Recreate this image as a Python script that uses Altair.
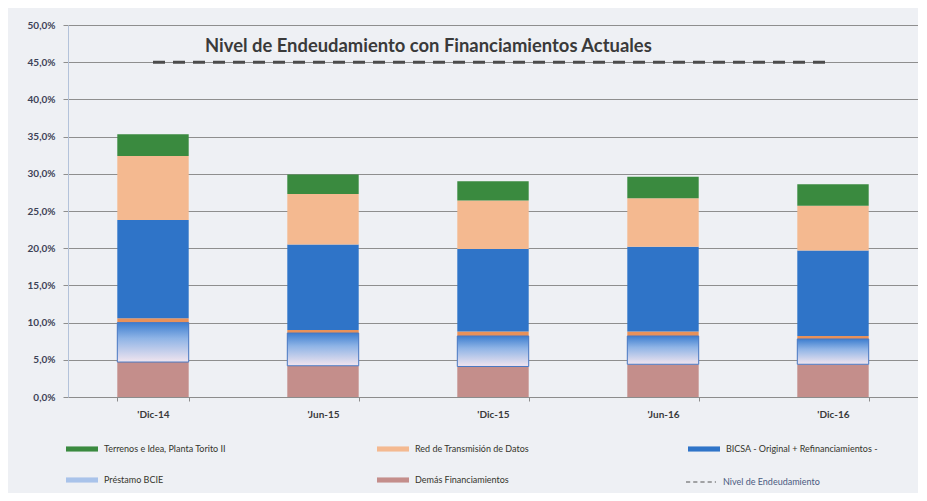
import altair as alt
import pandas as pd

# ---- data ----
fechas = ["'Dic-14", "'Jun-15", "'Dic-15", "'Jun-16", "'Dic-16"]
demas = [4.7, 4.2, 4.1, 4.4, 4.4]
prestamo = [5.3, 4.4, 4.1, 3.8, 3.4]
otros = [0.6, 0.4, 0.6, 0.6, 0.4]
bicsa = [13.2, 11.5, 11.1, 11.4, 11.5]
red = [8.6, 6.8, 6.5, 6.5, 6.0]
terrenos = [2.9, 2.6, 2.6, 2.9, 2.9]
nivel = [45.0, 45.0, 45.0, 45.0, 45.0]

S_TER = "Terrenos e Idea, Planta Torito II"
S_RED = "Red de Transmisión de Datos"
S_BIC = "BICSA - Original + Refinanciamientos -"
S_PRE = "Préstamo BCIE"
S_DEM = "Demás Financiamientos"
S_OTR = "Otros"
S_NIV = "Nivel de Endeudamiento"

series = [S_DEM, S_PRE, S_OTR, S_BIC, S_RED, S_TER]  # bottom -> top
valores = [demas, prestamo, otros, bicsa, red, terrenos]
colores = {
    S_TER: "#3a8a3f",
    S_RED: "#f4b990",
    S_BIC: "#2f74c8",
    S_PRE: "#a9c3ea",
    S_DEM: "#c48e8b",
    S_OTR: "#e8915a",
}

rows = []
for i, f in enumerate(fechas):
    base = 0.0
    for s, vals in zip(series, valores):
        rows.append({"fecha": f, "serie": s, "y0": base, "y1": base + vals[i], "orden": series.index(s)})
        base += vals[i]
df = pd.DataFrame(rows)
df_line = pd.DataFrame({"fecha": fechas, "y0": nivel, "linea": [S_NIV] * len(fechas)})

FONT = "Lato"

x_enc = alt.X(
    "fecha:N",
    sort=fechas,
    scale=alt.Scale(paddingInner=0.58, paddingOuter=0.29),
    axis=alt.Axis(
        title=None, labelAngle=0, tickBand="extent", ticks=True, tickSize=4,
        tickColor="#8c8c8c", domainColor="#8c8c8c", grid=False,
        labelFont=FONT, labelFontSize=10, labelFontWeight="bold",
        labelColor="#3a3a3a", labelPadding=8,
    ),
)
y_axis = alt.Axis(
    title=None, values=[0, 5, 10, 15, 20, 25, 30, 35, 40, 45, 50],
    labelExpr="replace(format(datum.value, '.1f'), '.', ',') + '%'",
    grid=True, gridColor="#8e8e8e", gridWidth=1,
    tickSize=5, tickColor="#8e8e8e", domainColor="#b3c2da",
    labelFont=FONT, labelFontSize=10, labelFontWeight="bold",
    labelColor="#3d4256", labelPadding=8,
)
y_scale = alt.Scale(domain=[0, 50], nice=False)

color_legend = alt.Legend(
    title=None, orient="none", legendX=-2, legendY=408, columns=3, direction="horizontal",
    values=[S_TER, S_RED, S_BIC, S_PRE, S_DEM],
    symbolType="M-1,-0.16H1V0.16H-1Z", symbolSize=1024, symbolStrokeWidth=0,
    labelFont=FONT, labelFontSize=9, labelColor="#35352c", labelOffset=6,
    columnPadding=121, rowPadding=10, gridAlign="all", padding=0,
)

bars = alt.Chart(df).mark_bar().encode(
    x=x_enc,
    y=alt.Y("y0:Q", scale=y_scale, axis=y_axis),
    y2="y1:Q",
    color=alt.Color("serie:N", scale=alt.Scale(domain=list(colores.keys()), range=list(colores.values())), legend=color_legend),
    order="orden:Q",
)

gradiente = alt.LinearGradient(
    gradient="linear", x1=0, y1=0, x2=0, y2=1,
    stops=[
        alt.GradientStop(offset=0, color="#3c7dcf"),
        alt.GradientStop(offset=0.4, color="#8fb4e6"),
        alt.GradientStop(offset=1, color="#f1e5ef"),
    ],
)
prest = alt.Chart(df).transform_filter(alt.datum.serie == S_PRE).mark_bar(
    color=gradiente, stroke="#4a78c2", strokeWidth=1
).encode(x=x_enc, y=alt.Y("y0:Q", scale=y_scale, axis=y_axis), y2="y1:Q")

linea = alt.Chart(df_line).mark_line(color="#4b4b4b", strokeWidth=3).encode(
    x=x_enc,
    y=alt.Y("y0:Q", scale=y_scale, axis=y_axis),
    strokeDash=alt.StrokeDash(
        "linea:N",
        scale=alt.Scale(domain=[S_NIV], range=[[12, 8]]),
        legend=alt.Legend(
            title=None, orient="none", legendX=617, legendY=441,
            symbolType="M-1,0H-0.72M-0.52,0H-0.24M-0.04,0H0.24M0.44,0H0.72M0.92,0H1",
            symbolSize=900, symbolStrokeWidth=1.2, symbolStrokeColor="#555555",
            labelFont=FONT, labelFontSize=9, labelColor="#4a5a80", labelOffset=6, padding=0,
        ),
    ),
)

chart = alt.layer(bars, prest, linea).properties(
    width=850, height=372,
    title=alt.Title(
        "Nivel de Endeudamiento con Financiamientos Actuales",
        anchor="start", frame="group", dx=137, dy=39, font=FONT, fontSize=18.4, fontWeight="bold", color="#3a3a3a",
    ),
    autosize=alt.AutoSizeParams(type="none"),
    padding={"left": 60, "top": 17, "right": 0, "bottom": 96},
).configure(background="#eef0f4").configure_view(stroke=None)

chart.save("out.html", embed_options={"renderer": "svg", "actions": False})
